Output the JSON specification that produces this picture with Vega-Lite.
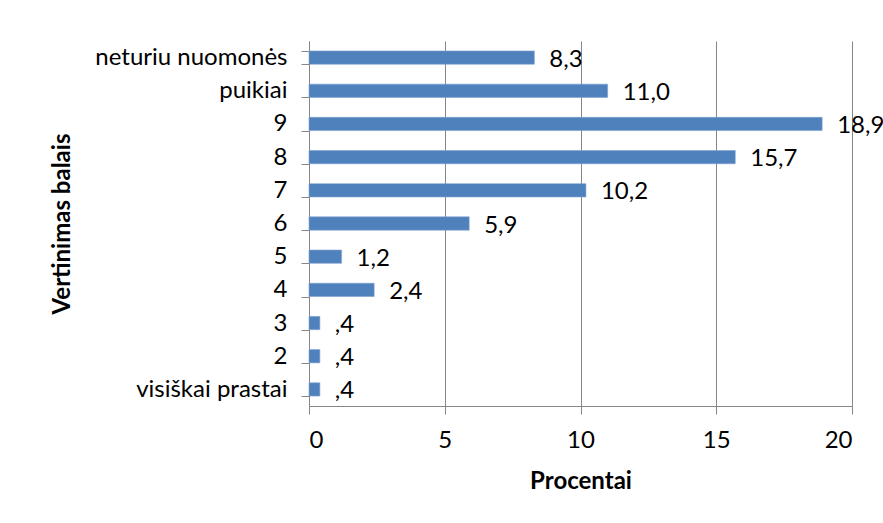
{
  "$schema": "https://vega.github.io/schema/vega-lite/v6.json",
  "width": 543,
  "height": 365,
  "autosize": {"type": "none"},
  "padding": {"left": 309, "top": 41, "right": 31, "bottom": 117},
  "background": "white",
  "config": {
    "font": "Lato",
    "view": {"stroke": null}
  },
  "data": {
    "values": [
      {"cat": "neturiu nuomonės", "pct": 8.3, "label": "8,3"},
      {"cat": "puikiai", "pct": 11.0, "label": "11,0"},
      {"cat": "9", "pct": 18.9, "label": "18,9"},
      {"cat": "8", "pct": 15.7, "label": "15,7"},
      {"cat": "7", "pct": 10.2, "label": "10,2"},
      {"cat": "6", "pct": 5.9, "label": "5,9"},
      {"cat": "5", "pct": 1.2, "label": "1,2"},
      {"cat": "4", "pct": 2.4, "label": "2,4"},
      {"cat": "3", "pct": 0.4, "label": ",4"},
      {"cat": "2", "pct": 0.4, "label": ",4"},
      {"cat": "visiškai prastai", "pct": 0.4, "label": ",4"}
    ]
  },
  "encoding": {
    "y": {
      "field": "cat",
      "type": "nominal",
      "sort": null,
      "scale": {"paddingInner": 0.6, "paddingOuter": 0.3},
      "axis": {
        "title": "Vertinimas balais",
        "titleFontSize": 24,
        "titleFontWeight": "bold",
        "titleColor": "black",
        "titlePadding": 35,
        "labelFontSize": 24,
        "labelColor": "black",
        "labelPadding": 14,
        "labelLimit": 400,
        "tickBand": "extent",
        "tickSize": 8,
        "tickColor": "#868686",
        "domainColor": "#868686",
        "grid": false
      }
    },
    "x": {
      "field": "pct",
      "type": "quantitative",
      "scale": {"domain": [0, 20], "nice": false},
      "axis": {
        "title": "Procentai",
        "titleFontSize": 24,
        "titleFontWeight": "bold",
        "titleColor": "black",
        "titlePadding": 17,
        "values": [0, 5, 10, 15, 20],
        "labelFontSize": 24,
        "labelColor": "black",
        "labelPadding": 14,
        "tickSize": 8,
        "tickColor": "#868686",
        "domainColor": "#868686",
        "gridColor": "#868686",
        "gridOpacity": 1
      }
    }
  },
  "layer": [
    {"mark": {"type": "bar", "color": "#4F81BD", "stroke": "#7EA1D0", "strokeWidth": 0.6}},
    {
      "mark": {"type": "text", "align": "left", "baseline": "middle", "dx": 15, "dy": 2, "fontSize": 24, "color": "black"},
      "encoding": {"text": {"field": "label"}}
    }
  ]
}
